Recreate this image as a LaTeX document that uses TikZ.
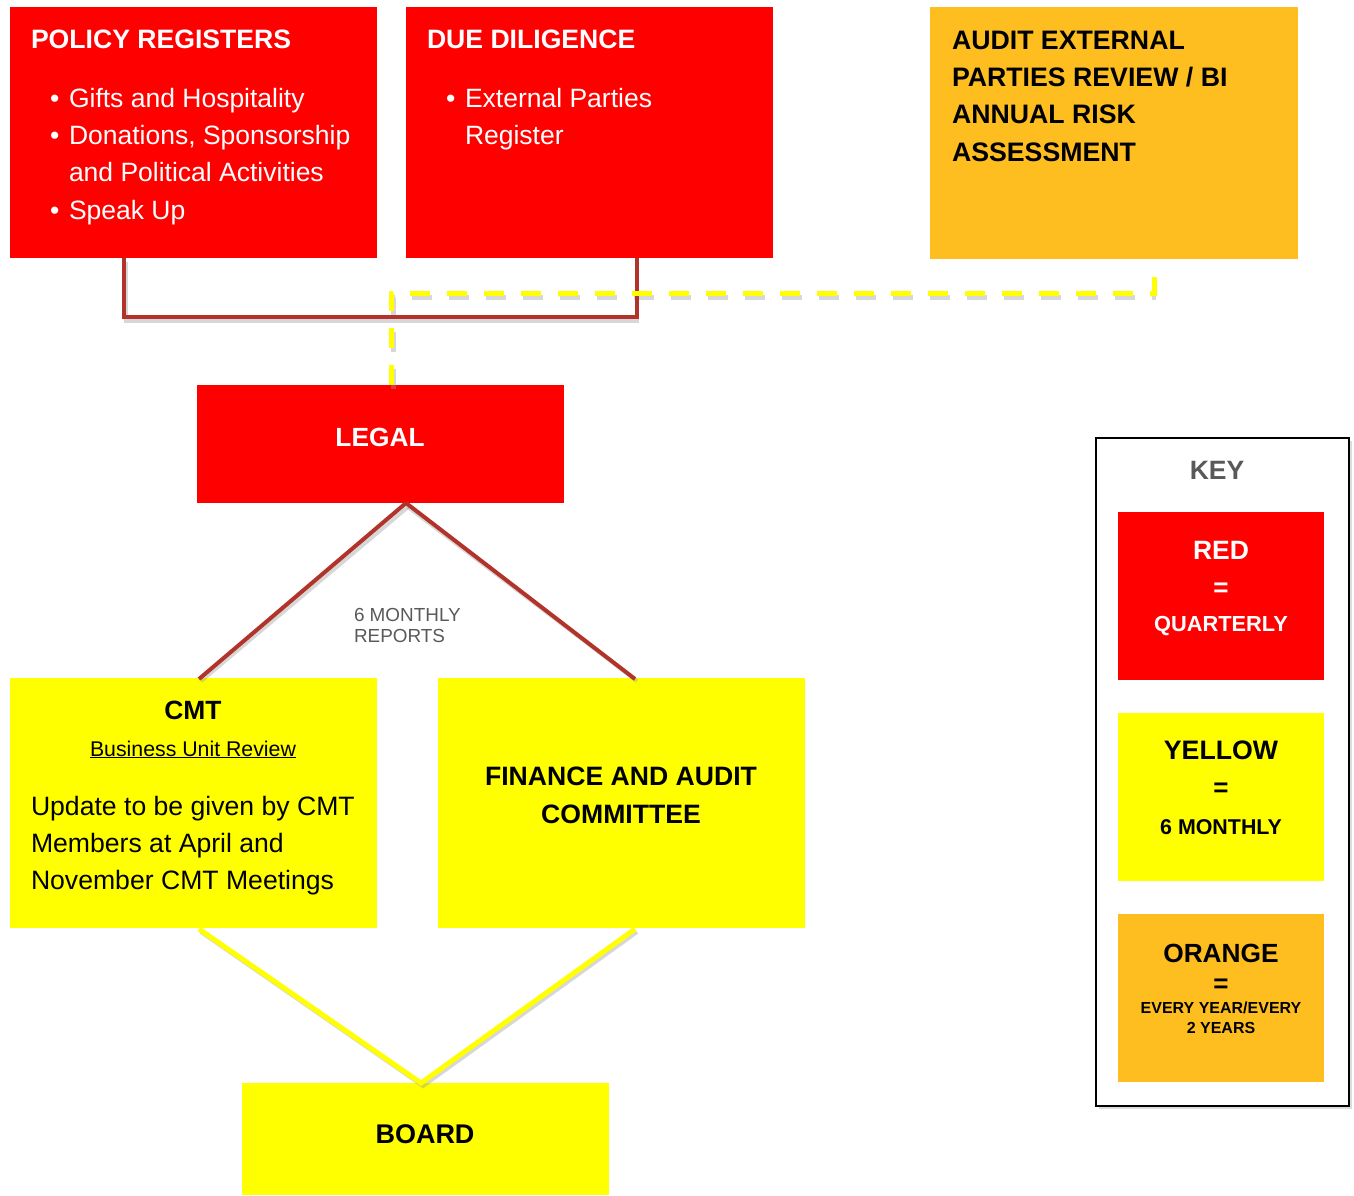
\documentclass[tikz,border=0pt]{standalone}
\usepackage{fontspec}
\setmainfont{Liberation Sans}
\definecolor{cred}{HTML}{FF0000}
\definecolor{cyel}{HTML}{FFFF00}
\definecolor{corg}{HTML}{FEBE20}
\definecolor{cbrown}{HTML}{B2332A}
\definecolor{cgray}{HTML}{595959}
\definecolor{cshadow}{HTML}{9A9A9A}
\begin{document}
\begin{tikzpicture}[x=1pt,y=-1pt,
  boxbase/.style={inner sep=0pt, outer sep=0pt, draw=none},
  redbox/.style={boxbase, fill=cred},
  yelbox/.style={boxbase, fill=cyel},
  orgbox/.style={boxbase, fill=corg},
  txt/.style={inner sep=0pt, outer sep=0pt, anchor=base west},
  ctxt/.style={inner sep=0pt, outer sep=0pt, anchor=center},
  brownline/.style={draw=cbrown, line width=4pt},
  yelline/.style={draw=cyel, line width=5pt},
  shadowline/.style={draw=cshadow, opacity=0.4, line width=4pt},
  yeldash/.style={draw=cyel, line width=5pt, dash pattern=on 20pt off 17pt}
]
\useasboundingbox (0,0) rectangle (1354,1195);

% ---------- boxes ----------
\node[redbox, minimum width=367pt, minimum height=251pt] (pr) at (193.5,132.5) {};
\node[redbox, minimum width=367pt, minimum height=251pt] (dd) at (589.5,132.5) {};
\node[orgbox, minimum width=368pt, minimum height=252pt] (au) at (1114,133) {};
\node[redbox, minimum width=367pt, minimum height=118pt] (legal) at (380.5,444) {};
\node[yelbox, minimum width=367pt, minimum height=250pt] (cmt) at (193.5,803) {};
\node[yelbox, minimum width=367pt, minimum height=250pt] (fac) at (621.5,803) {};
\node[yelbox, minimum width=367pt, minimum height=112pt] (board) at (425.5,1139) {};

% key
\fill[cshadow, opacity=0.35] (1099,441) rectangle (1352,1109);
\node[boxbase, fill=white, draw=black, line width=2.5pt, minimum width=253pt, minimum height=668pt] (key) at (1222.5,772) {};
\node[redbox, minimum width=206pt, minimum height=168pt] (kred) at (1221,596) {};
\node[yelbox, minimum width=206pt, minimum height=168pt] (kyel) at (1221,797) {};
\node[orgbox, minimum width=206pt, minimum height=168pt] (korg) at (1221,998) {};

% ---------- connector coordinates ----------
\coordinate (prb) at (124,258);
\coordinate (ddb) at (637,258);
\coordinate (legt) at (391,385);
\coordinate (aub) at (1154,276);
\coordinate (legb) at (406,503);
\coordinate (cmtt) at (199,679);
\coordinate (fact) at (635,679);
\coordinate (cmtb) at (199,929);
\coordinate (facb) at (635,929);
\coordinate (boardt) at (421,1083);

% ---------- shadows ----------
\draw[shadowline] ([shift={(2,4)}]prb) -- ++(0,59) -- ([shift={(2,63)}]ddb);
\draw[shadowline] ([shift={(2,4)}]legb) -- ([shift={(2,2)}]cmtt);
\draw[shadowline] ([shift={(2,4)}]legb) -- ([shift={(2,2)}]fact);
\draw[shadowline] ([shift={(2,3)}]cmtb) -- ([shift={(2,3)}]boardt) -- ([shift={(2,3)}]facb);
\draw[shadowline, line width=5pt, dash pattern=on 20pt off 17pt] ([shift={(2,4)}]legt) |- ([shift={(2,4)}]aub |- 0,293);

% ---------- connectors ----------
\draw[brownline] (prb) -- ++(0,59) -| (ddb);
\draw[yeldash] (legt) |- (aub |- 0,293) -- (aub);
\draw[brownline] (legb) -- (cmtt);
\draw[brownline] (legb) -- (fact);
\draw[yelline] (cmtb) -- (boardt) -- (facb);

% ---------- texts ----------
% policy registers
\node[txt, text=white] (prt) at (31,48) {\fontsize{26.6}{30}\selectfont\bfseries POLICY REGISTERS};
\node[txt, text=white] (prb1) at (50,107) {\fontsize{26.5}{30}\selectfont •};
\node[txt, text=white] (pr1) at (69,107) {\fontsize{26.5}{30}\selectfont Gifts and Hospitality};
\node[txt, text=white] (prb2) at (50,144) {\fontsize{26.5}{30}\selectfont •};
\node[txt, text=white] (pr2) at (69,144) {\fontsize{26.5}{30}\selectfont Donations, Sponsorship};
\node[txt, text=white] (pr3) at (69,181) {\fontsize{26.5}{30}\selectfont and Political Activities};
\node[txt, text=white] (prb4) at (50,219) {\fontsize{26.5}{30}\selectfont •};
\node[txt, text=white] (pr4) at (69,219) {\fontsize{26.5}{30}\selectfont Speak Up};

% due diligence
\node[txt, text=white] (ddt) at (427,48) {\fontsize{26.6}{30}\selectfont\bfseries DUE DILIGENCE};
\node[txt, text=white] (ddb1) at (446,107) {\fontsize{26.5}{30}\selectfont •};
\node[txt, text=white] (dd1) at (465,107) {\fontsize{26.5}{30}\selectfont External Parties};
\node[txt, text=white] (dd2) at (465,144) {\fontsize{26.5}{30}\selectfont Register};

% audit
\node[txt] (au1) at (952,49.5) {\fontsize{26.7}{30}\selectfont\bfseries AUDIT EXTERNAL};
\node[txt] (au2) at (952,86.5) {\fontsize{26.7}{30}\selectfont\bfseries PARTIES REVIEW / BI};
\node[txt] (au3) at (952,123.5) {\fontsize{26.7}{30}\selectfont\bfseries ANNUAL RISK};
\node[txt] (au4) at (952,161) {\fontsize{26.7}{30}\selectfont\bfseries ASSESSMENT};

% legal
\node[ctxt, text=white] (legt1) at (380,437) {\fontsize{26.3}{30}\selectfont\bfseries LEGAL};
\node[txt, text=cgray] (rep1) at (354,621.5) {\fontsize{18.9}{21}\selectfont 6 MONTHLY};
\node[txt, text=cgray] (rep2) at (354,642.5) {\fontsize{18.9}{21}\selectfont REPORTS};

% cmt
\node[ctxt] (cmt1) at (193,710) {\fontsize{26.4}{30}\selectfont\bfseries CMT};
\node[inner sep=0pt, anchor=base] (cmt2) at (193,756) {\fontsize{21.3}{24}\selectfont\underline{Business Unit Review}};
\node[txt] (cmt3) at (31,815) {\fontsize{26.6}{30}\selectfont Update to be given by CMT};
\node[txt] (cmt4) at (31,852) {\fontsize{26.6}{30}\selectfont Members at April and};
\node[txt] (cmt5) at (31,889) {\fontsize{26.6}{30}\selectfont November CMT Meetings};

% finance
\node[ctxt] (fac1) at (621,776) {\fontsize{26.6}{30}\selectfont\bfseries FINANCE AND AUDIT};
\node[ctxt] (fac2) at (621,814) {\fontsize{26.6}{30}\selectfont\bfseries COMMITTEE};

% board
\node[ctxt] (board1) at (425,1134) {\fontsize{27}{30}\selectfont\bfseries BOARD};

% key texts
\node[ctxt, text=cgray] (keyt) at (1217,470) {\fontsize{26.5}{30}\selectfont\bfseries KEY};
\node[ctxt, text=white] (kr1) at (1221,550) {\fontsize{26.5}{30}\selectfont\bfseries RED};
\node[ctxt, text=white] (kr2) at (1221,590) {\fontsize{26}{30}\selectfont\bfseries =};
\node[ctxt, text=white] (kr3) at (1221,626) {\fontsize{21.8}{24}\selectfont\bfseries QUARTERLY};
\node[ctxt] (ky1) at (1221,750) {\fontsize{26.7}{30}\selectfont\bfseries YELLOW};
\node[ctxt] (ky2) at (1221,790) {\fontsize{26}{30}\selectfont\bfseries =};
\node[ctxt] (ky3) at (1221,827) {\fontsize{21.4}{24}\selectfont\bfseries 6 MONTHLY};
\node[ctxt] (ko1) at (1221,953) {\fontsize{26.3}{30}\selectfont\bfseries ORANGE};
\node[ctxt] (ko2) at (1221,986) {\fontsize{26}{30}\selectfont\bfseries =};
\node[ctxt] (ko3) at (1221,1008) {\fontsize{16}{20}\selectfont\bfseries EVERY YEAR/EVERY};
\node[ctxt] (ko4) at (1221,1028) {\fontsize{16}{20}\selectfont\bfseries 2 YEARS};
\end{tikzpicture}
\end{document}
